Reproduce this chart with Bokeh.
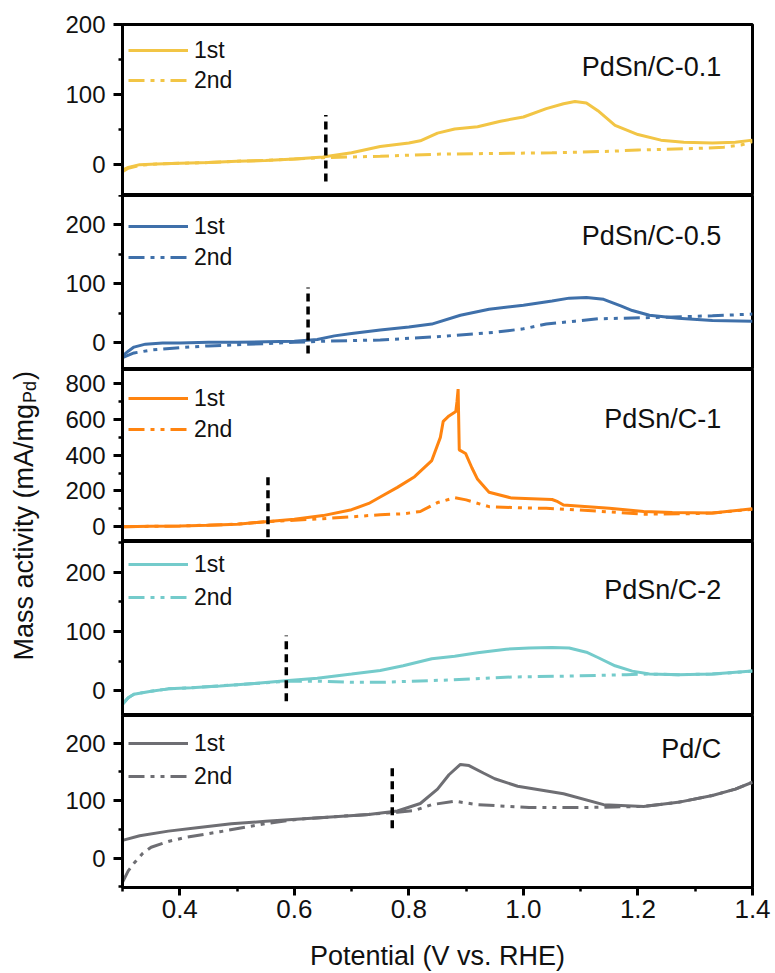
import math
from bokeh.plotting import figure
from bokeh.layouts import column, row
from bokeh.models import (Range1d, SingleIntervalTicker, FixedTicker, PrintfTickFormatter,
                          Legend, LegendItem, Label)
from bokeh.core.properties import value
from bokeh.embed import file_html
from bokeh.resources import INLINE

# ---------------- data ----------------
panel_names = ["PdSn/C-0.1", "PdSn/C-0.5", "PdSn/C-1", "PdSn/C-2", "Pd/C"]
series_labels = ["1st", "2nd"]
colors = ["#F2C545", "#3F70AA", "#FF8410", "#74CBCB", "#6E6E73"]

# PdSn/C-0.1
x1_01 = [0.30, 0.31, 0.33, 0.36, 0.40, 0.45, 0.50, 0.55, 0.60, 0.65, 0.70, 0.75, 0.80, 0.82, 0.85, 0.88, 0.92, 0.96, 1.00, 1.04, 1.07, 1.09, 1.11, 1.13, 1.16, 1.20, 1.24, 1.28, 1.33, 1.37, 1.40]
y1_01 = [-8, -4, 0, 1, 2, 3, 5, 6, 8, 11, 17, 26, 31, 34, 45, 51, 54, 62, 68, 80, 87, 90, 88, 77, 56, 43, 35, 32, 31, 32, 35]
x2_01 = [0.30, 0.31, 0.33, 0.36, 0.40, 0.45, 0.50, 0.55, 0.60, 0.65, 0.70, 0.75, 0.85, 0.95, 1.05, 1.15, 1.20, 1.30, 1.35, 1.38, 1.40]
y2_01 = [-10, -5, -1, 1, 2, 3, 5, 6, 8, 10, 11, 12, 15, 16, 17, 19, 21, 23, 25, 28, 33]

# PdSn/C-0.5
x1_05 = [0.30, 0.31, 0.32, 0.34, 0.37, 0.40, 0.45, 0.50, 0.55, 0.60, 0.64, 0.67, 0.70, 0.75, 0.80, 0.84, 0.89, 0.94, 1.00, 1.05, 1.08, 1.11, 1.14, 1.17, 1.19, 1.22, 1.27, 1.33, 1.40]
y1_05 = [-22, -14, -7, -2, 0, 0, 1, 1, 2, 3, 6, 12, 16, 22, 27, 32, 47, 57, 64, 71, 76, 77, 74, 63, 55, 47, 42, 38, 37]
x2_05 = [0.30, 0.32, 0.35, 0.40, 0.45, 0.50, 0.55, 0.60, 0.65, 0.70, 0.75, 0.84, 0.95, 1.00, 1.04, 1.09, 1.13, 1.22, 1.33, 1.40]
y2_05 = [-25, -17, -12, -8, -5, -3, -1, 1, 3, 4, 5, 10, 18, 24, 32, 37, 41, 43, 46, 49]

# PdSn/C-1
x1_1 = [0.30, 0.35, 0.40, 0.45, 0.50, 0.55, 0.60, 0.65, 0.70, 0.73, 0.75, 0.78, 0.81, 0.84, 0.855, 0.86, 0.87, 0.882, 0.884, 0.886, 0.888, 0.899, 0.91, 0.92, 0.94, 0.98, 1.05, 1.06, 1.07, 1.15, 1.21, 1.26, 1.33, 1.40]
y1_1 = [0, 2, 4, 8, 14, 28, 42, 62, 95, 130, 166, 220, 280, 370, 500, 590, 620, 645, 700, 770, 430, 410, 330, 265, 193, 160, 152, 140, 121, 103, 85, 80, 76, 100]
x2_1 = [0.30, 0.40, 0.50, 0.55, 0.60, 0.65, 0.70, 0.75, 0.79, 0.82, 0.85, 0.88, 0.90, 0.94, 1.00, 1.04, 1.12, 1.21, 1.28, 1.33, 1.40]
y2_1 = [0, 4, 14, 28, 36, 45, 55, 67, 72, 85, 135, 162, 150, 112, 105, 103, 89, 70, 72, 76, 98]

# PdSn/C-2
x1_2 = [0.30, 0.31, 0.32, 0.35, 0.38, 0.42, 0.47, 0.53, 0.59, 0.64, 0.70, 0.75, 0.79, 0.84, 0.88, 0.92, 0.97, 1.01, 1.05, 1.08, 1.11, 1.13, 1.16, 1.19, 1.22, 1.27, 1.33, 1.40]
y1_2 = [-23, -12, -6, -1, 3, 5, 8, 12, 17, 21, 28, 34, 42, 54, 58, 64, 70, 72, 73, 72, 65, 56, 42, 33, 28, 27, 28, 33]
x2_2 = [0.30, 0.31, 0.32, 0.35, 0.38, 0.42, 0.47, 0.53, 0.59, 0.64, 0.70, 0.75, 0.87, 0.98, 1.10, 1.18, 1.22, 1.27, 1.33, 1.40]
y2_2 = [-23, -12, -6, -1, 3, 5, 8, 12, 16, 16, 14, 14, 18, 23, 25, 27, 28, 27, 28, 33]

# Pd/C
x1_pd = [0.30, 0.33, 0.38, 0.43, 0.49, 0.55, 0.61, 0.67, 0.73, 0.78, 0.82, 0.85, 0.87, 0.89, 0.905, 0.93, 0.95, 0.99, 1.07, 1.14, 1.21, 1.27, 1.33, 1.37, 1.40]
y1_pd = [31, 39, 47, 53, 60, 64, 68, 72, 76, 82, 95, 120, 145, 163, 161, 148, 138, 125, 112, 93, 90, 97, 109, 120, 132]
x2_pd = [0.30, 0.31, 0.32, 0.335, 0.35, 0.38, 0.41, 0.47, 0.55, 0.61, 0.67, 0.73, 0.78, 0.81, 0.84, 0.88, 0.92, 1.01, 1.10, 1.16, 1.21, 1.27, 1.33, 1.37, 1.40]
y2_pd = [-42, -22, -9, 8, 19, 29, 36, 46, 60, 68, 72, 76, 80, 83, 93, 99, 93, 88, 88, 89, 90, 97, 109, 120, 132]

xs_first = [x1_01, x1_05, x1_1, x1_2, x1_pd]
ys_first = [y1_01, y1_05, y1_1, y1_2, y1_pd]
xs_second = [x2_01, x2_05, x2_1, x2_2, x2_pd]
ys_second = [y2_01, y2_05, y2_1, y2_2, y2_pd]

# onset potential markers (vertical dashed lines)
onset_x = [0.655, 0.624, 0.554, 0.586, 0.771]
onset_y0 = [-24, -18, -59, -18, 52]
onset_y1 = [71, 94, 297, 93, 165]

# axes
x_start, x_end = 0.3, 1.4
x_ticks = [0.4, 0.6, 0.8, 1.0, 1.2, 1.4]
x_minor_ticks = [0.3, 0.5, 0.7, 0.9, 1.1, 1.3]
y_ranges = [(-44, 200), (-45, 250), (-83, 880), (-42, 252), (-51, 248)]
y_intervals = [100, 100, 200, 100, 100]
x_title = "Potential (V vs. RHE)"
y_title_main = "Mass activity (mA/mg"
y_title_sub = "Pd"
y_title_end = ")"

# ---------------- layout / style ----------------
FONT = "Liberation Sans"
FW = 630
TOP_BORDER = 24
BOTTOM_BORDER = 86
LEFT_W = 56
frame_heights = [171, 174, 172, 174, 172]
legend_first_center = [26, 31, 29, 23, 28]
legend_pitch = [30, 31, 31, 33, 33]
name_baseline = [42.7, 40, 49, 48, 33]
name_right = 31.3
DASH2 = "16 6 4 6 4 6"

xr = Range1d(x_start, x_end)
panels = []
for i in range(5):
    first = i == 0
    last = i == 4
    ymin, ymax = y_ranges[i]
    h = frame_heights[i]
    p = figure(frame_width=FW, frame_height=h, x_range=xr, y_range=Range1d(ymin, ymax),
               x_axis_location="below" if last else None, y_axis_location="left",
               min_border_left=66, min_border_right=20,
               min_border_top=TOP_BORDER if first else 0,
               min_border_bottom=BOTTOM_BORDER if last else 0,
               toolbar_location=None, output_backend="svg",
               background_fill_color="white", border_fill_color="white")
    p.outline_line_color = "black"
    p.outline_line_width = 3
    p.outline_line_alpha = 1
    p.grid.visible = False

    c = colors[i]
    r2 = p.line(xs_second[i], ys_second[i], line_color=c, line_width=3, line_dash=DASH2)
    r1 = p.line(xs_first[i], ys_first[i], line_color=c, line_width=3)
    p.segment(x0=[onset_x[i]], y0=[onset_y0[i]], x1=[onset_x[i]], y1=[onset_y1[i]],
              line_color="black", line_width=3.5, line_dash="8 5")

    ax = p.yaxis[0]
    ax.ticker = SingleIntervalTicker(interval=y_intervals[i], num_minor_ticks=2)
    ax.axis_line_width = 3
    ax.major_tick_line_width = 3
    ax.minor_tick_line_width = 2.5
    ax.major_tick_in = 0
    ax.major_tick_out = 9
    ax.minor_tick_in = 0
    ax.minor_tick_out = 4
    ax.major_label_text_font = FONT
    ax.major_label_text_font_size = "24px"
    ax.major_label_text_color = "#111111"
    ax.major_label_standoff = 8

    if last:
        xa = p.xaxis[0]
        xa.ticker = FixedTicker(ticks=x_ticks, minor_ticks=x_minor_ticks)
        xa.formatter = PrintfTickFormatter(format="%.1f")
        xa.axis_line_width = 3
        xa.major_tick_line_width = 3
        xa.minor_tick_line_width = 2.5
        xa.major_tick_in = 0
        xa.major_tick_out = 8
        xa.minor_tick_in = 0
        xa.minor_tick_out = 4
        xa.major_label_text_font = FONT
        xa.major_label_text_font_size = "26px"
        xa.major_label_text_color = "#111111"
        xa.major_label_standoff = 4
        xa.axis_label = x_title
        xa.axis_label_text_font = FONT
        xa.axis_label_text_font_size = "27px"
        xa.axis_label_text_font_style = "normal"
        xa.axis_label_text_color = "#111111"
        xa.axis_label_standoff = 20

    # panel name
    yscale = (ymax - ymin) / h
    xscale = (x_end - x_start) / FW
    p.add_layout(Label(x=x_end - name_right * xscale, y=ymax - name_baseline[i] * yscale,
                       text=panel_names[i], text_align="right", text_baseline="alphabetic",
                       text_font=FONT, text_font_size="27px", text_color="#111111"))

    # legend
    sp = legend_pitch[i] - 30
    top_off = legend_first_center[i] - 15
    leg_h = 60 + sp
    vy = h - top_off - leg_h
    leg = Legend(items=[LegendItem(label=series_labels[0], renderers=[r1]),
                        LegendItem(label=series_labels[1], renderers=[r2])],
                 location=(6, vy), glyph_width=60, glyph_height=30, label_height=30,
                 label_standoff=6, padding=0, margin=0, spacing=sp,
                 border_line_alpha=0, background_fill_alpha=0,
                 label_text_font=FONT, label_text_font_size="23px", label_text_color="#111111")
    p.add_layout(leg)
    panels.append(p)

# ---------------- y-axis title (with subscript) ----------------
TOTAL_H = TOP_BORDER + sum(frame_heights) + BOTTOM_BORDER
lab = figure(width=LEFT_W, height=TOTAL_H, x_range=Range1d(0, LEFT_W), y_range=Range1d(0, TOTAL_H),
             x_axis_location=None, y_axis_location=None, min_border=0,
             toolbar_location=None, output_backend="svg", outline_line_color=None,
             background_fill_color="white", border_fill_color="white")
lab.grid.visible = False
AW = {'M': .833, 'a': .556, 's': .5, ' ': .278, 'c': .5, 't': .278, 'i': .222, 'v': .5,
      'y': .5, '(': .333, 'm': .833, 'A': .667, '/': .278, 'g': .556, 'P': .667, 'd': .556, ')': .333}
MAIN_FS, SUB_FS = 27, 18
base_x = 23
start_y = TOTAL_H - 660
w_main = sum(AW[ch] for ch in y_title_main) * MAIN_FS
w_sub = sum(AW[ch] for ch in y_title_sub) * SUB_FS
common = dict(angle=math.pi / 2, text_align="left", text_baseline="alphabetic",
              text_font=value(FONT), text_color="#111111")
lab.text(x=[base_x], y=[start_y], text=[y_title_main], text_font_size=f"{MAIN_FS}px", **common)
lab.text(x=[base_x + 6], y=[start_y + w_main + 1], text=[y_title_sub], text_font_size=f"{SUB_FS}px", **common)
lab.text(x=[base_x], y=[start_y + w_main + w_sub + 2], text=[y_title_end], text_font_size=f"{MAIN_FS}px", **common)

layout = row(lab, column(*panels, spacing=0), spacing=0)
open("out.html", "w").write(file_html(layout, INLINE, "Mass activity"))
